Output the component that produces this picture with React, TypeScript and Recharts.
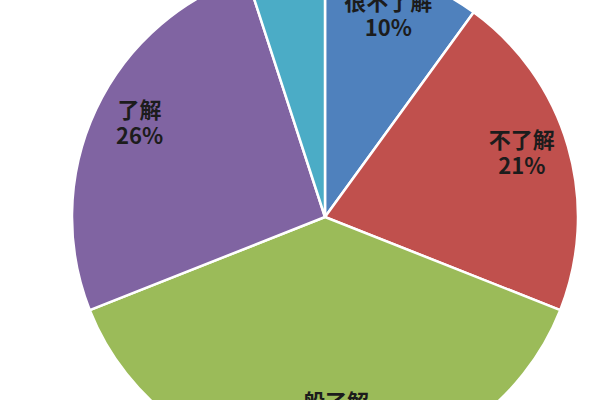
import React from "react";
import {Cell, Pie, PieChart} from "recharts";

const categories = ["很不了解", "不了解", "一般了解", "了解", "非常了解"];
const shares = [10, 21, 38, 26, 5];
const colors = ["#4F81BD", "#C0504D", "#9BBB59", "#8064A2", "#4BACC6"];
const showLabel = [true, true, true, true, false];

const data = categories.map((name, i) => ({name, value: shares[i]}));

const RAD = Math.PI / 180;

const renderLabel = (props: any) => {
    const {cx, cy, midAngle, outerRadius, index, name, value} = props;
    if (!showLabel[index]) return null;
    const r = outerRadius * 0.81;
    const x = cx + r * Math.cos(-midAngle * RAD);
    const y = cy + r * Math.sin(-midAngle * RAD);
    return (
        <text x={x} y={y} textAnchor="middle" fill="#1c1c1c"
              fontFamily="'Noto Sans CJK SC', 'Noto Sans', sans-serif"
              fontWeight="bold" fontSize={22}>
            <tspan x={x} dy={-12}>{name}</tspan>
            <tspan x={x} dy={26}>{value}%</tspan>
        </text>
    );
};

const App: React.FC = () => {
    return <div style={{position: "absolute", left: 0, top: 0, width: 600, height: 400, background: "#fff"}}>
        <PieChart width={600} height={400} margin={{top: 0, right: 0, bottom: 0, left: 0}}>
            <Pie data={data} dataKey="value" nameKey="name"
                 cx={325} cy={217} outerRadius={253}
                 startAngle={90} endAngle={-270}
                 stroke="#fff" strokeWidth={2.5}
                 label={renderLabel} labelLine={false}
                 isAnimationActive={false}>
                {data.map((d, i) => <Cell key={d.name} fill={colors[i]} />)}
            </Pie>
        </PieChart>
    </div>
}

export default App;
